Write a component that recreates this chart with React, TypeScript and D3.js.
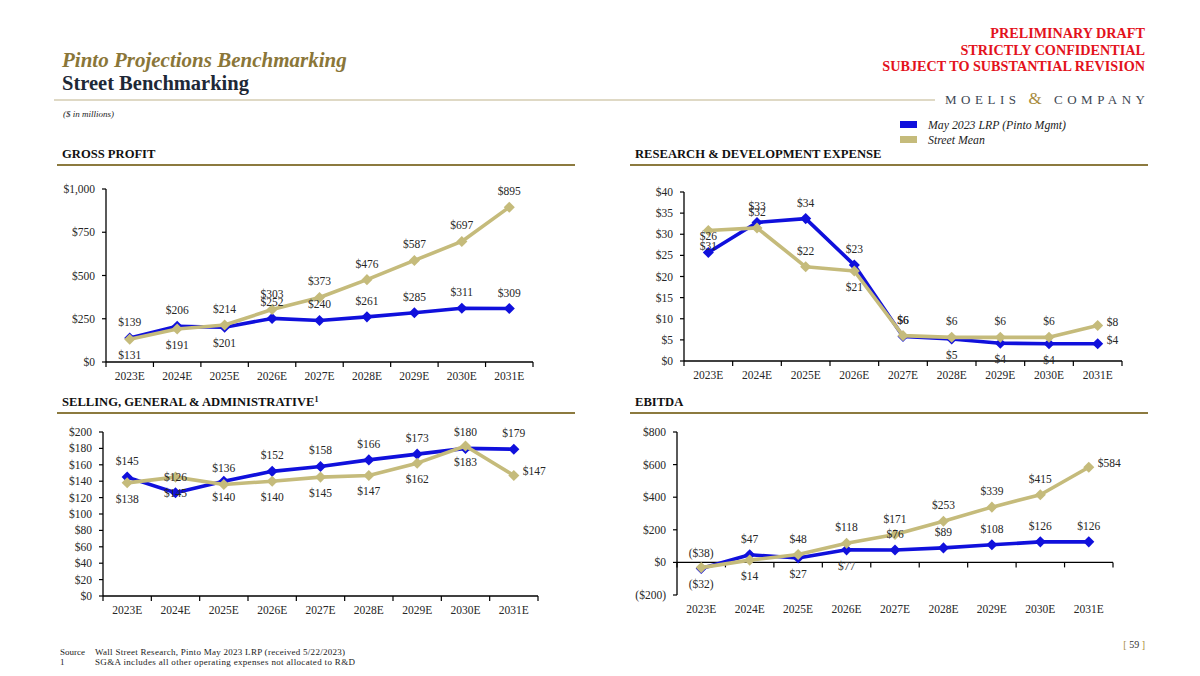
import React from "react";
import * as d3 from "d3";

const years = ["2023E", "2024E", "2025E", "2026E", "2027E", "2028E", "2029E", "2030E", "2031E"];

const gpLrp = [139, 206, 201, 252, 240, 261, 285, 311, 309];
const gpStreet = [131, 191, 214, 303, 373, 476, 587, 697, 895];
const gpTicks = [0, 250, 500, 750, 1000];
const gpLrpPos = ["a", "a", "b", "a", "a", "a", "a", "a", "a"];
const gpStreetPos = ["b", "b", "a", "a", "a", "a", "a", "a", "a"];

const rdLrp = [25.7, 32.8, 33.7, 22.7, 5.8, 5.2, 4.2, 4.1, 4.1];
const rdStreet = [30.9, 31.5, 22.3, 21.3, 6.0, 5.6, 5.6, 5.6, 8.4];
const rdTicks = [0, 5, 10, 15, 20, 25, 30, 35, 40];
const rdLrpPos = ["a", "a", "a", "a", "a", "b", "b", "b", "r"];
const rdStreetPos = ["b", "a", "a", "b", "a", "a", "a", "a", "r"];

const sgaLrp = [145, 126, 140, 152, 158, 166, 173, 180, 179];
const sgaStreet = [138, 145, 136, 140, 145, 147, 162, 183, 147];
const sgaTicks = [0, 20, 40, 60, 80, 100, 120, 140, 160, 180, 200];
const sgaLrpPos = ["a", "a", "b", "a", "a", "a", "a", "a", "a"];
const sgaStreetPos = ["b", "b", "a", "b", "b", "b", "b", "b", "r"];

const ebLrp = [-38, 47, 27, 77, 76, 89, 108, 126, 126];
const ebStreet = [-32, 14, 48, 118, 171, 253, 339, 415, 584];
const ebTicks = [-200, 0, 200, 400, 600, 800];
const ebLrpPos = ["a", "a", "b", "b", "a", "a", "a", "a", "a"];
const ebStreetPos = ["b", "b", "a", "a", "a", "a", "a", "a", "r"];

const BLUE = "#1010DC";
const GOLD = "#C5BB7B";
const SERIF = "'Liberation Serif', 'DejaVu Serif', serif";
const TXT = "#262626";

const fmtMoney = (v: number) => {
  const r = Math.round(v);
  const s = d3.format(",")(Math.abs(r));
  return r < 0 ? `($${s})` : `$${s}`;
};

type Series = { values: number[]; pos: string[]; color: string };

function Chart(props: {
  x0: number; x1: number; yTop: number; yBottom: number;
  domain: [number, number]; ticks: number[]; series: Series[];
}) {
  const { x0, x1, yTop, yBottom, domain, ticks, series } = props;
  const x = d3.scaleBand<string>().domain(years).range([x0, x1]);
  const y = d3.scaleLinear().domain(domain).range([yBottom, yTop]);
  const cx = (d: string) => (x(d) as number) + x.bandwidth() / 2;
  const y0 = y(Math.max(0, domain[0]));
  const line = d3.line<number>().x((_, i) => cx(years[i])).y((v) => y(v));
  const diamond = d3.symbol().type(d3.symbolDiamond2).size(78);
  const bounds = years.map((d) => x(d) as number).concat([x1]);
  return (
    <g>
      <line x1={x0} x2={x0} y1={yTop} y2={yBottom} stroke="#000" strokeWidth={1.3} />
      {ticks.map((t) => (
        <g key={t}>
          <line x1={x0 - 4} x2={x0} y1={y(t)} y2={y(t)} stroke="#000" strokeWidth={1.2} />
          <text x={x0 - 11} y={y(t) + 4} textAnchor="end" fontSize={11.5} fontFamily={SERIF} fill={TXT}>
            {fmtMoney(t)}
          </text>
        </g>
      ))}
      <line x1={x0} x2={x1} y1={y0} y2={y0} stroke="#000" strokeWidth={1.3} />
      {bounds.map((b, i) => (
        <line key={i} x1={b} x2={b} y1={y0} y2={y0 + 5} stroke="#000" strokeWidth={1.2} />
      ))}
      {years.map((d) => (
        <text key={d} x={cx(d)} y={yBottom + 18} textAnchor="middle" fontSize={11.5} fontFamily={SERIF} fill={TXT}>
          {d}
        </text>
      ))}
      {series.map((s, si) => (
        <g key={si}>
          <path d={line(s.values) || ""} fill="none" stroke={s.color} strokeWidth={3.6} strokeLinejoin="round" />
          {s.values.map((v, i) => (
            <path key={i} d={diamond() || ""} transform={`translate(${cx(years[i])},${y(v)})`} fill={s.color} />
          ))}
        </g>
      ))}
      {series.map((s, si) => (
        <g key={"l" + si}>
          {s.values.map((v, i) => {
            const p = s.pos[i];
            const px = cx(years[i]);
            const py = y(v);
            if (p === "r") {
              return (
                <text key={i} x={px + 9} y={py} textAnchor="start" fontSize={11.5} fontFamily={SERIF} fill={TXT}>
                  {fmtMoney(v)}
                </text>
              );
            }
            return (
              <text key={i} x={px} y={p === "a" ? py - 12 : py + 20} textAnchor="middle" fontSize={11.5} fontFamily={SERIF} fill={TXT}>
                {fmtMoney(v)}
              </text>
            );
          })}
        </g>
      ))}
    </g>
  );
}

function Section(props: { x: number; x2: number; y: number; title: React.ReactNode }) {
  return (
    <g>
      <text x={props.x + 5} y={props.y} fontSize={12.6} fontWeight="bold" fontFamily={SERIF} fill="#111">
        {props.title}
      </text>
      <line x1={props.x} x2={props.x2} y1={props.y + 7} y2={props.y + 7} stroke="#8C7A3F" strokeWidth={2} />
    </g>
  );
}

export default function App() {
  return (
    <svg width={1200} height={676} style={{ position: "absolute", left: 0, top: 0, background: "#fff" }}>
      <text x={62} y={67} fontSize={21} fontStyle="italic" fontWeight="bold" fontFamily={SERIF} fill="#8A7638">
        Pinto Projections Benchmarking
      </text>
      <text x={62} y={90} fontSize={20.5} fontWeight="bold" fontFamily={SERIF} fill="#1E2836">
        Street Benchmarking
      </text>
      <line x1={54} x2={935} y1={100} y2={100} stroke="#BFB48C" strokeWidth={1.2} />
      <text x={945} y={104} fontSize={13} fontFamily={SERIF} fill="#3C4652" textLength={200} lengthAdjust="spacing">
        MOELIS <tspan fill="#A88B3E" fontSize={17}>&amp;</tspan> COMPANY
      </text>
      {["PRELIMINARY DRAFT", "STRICTLY CONFIDENTIAL", "SUBJECT TO SUBSTANTIAL REVISION"].map((t, i) => (
        <text key={t} x={1145} y={38 + i * 16.5} textAnchor="end" fontSize={14.2} fontWeight="bold" fontFamily={SERIF} fill="#E3121C">
          {t}
        </text>
      ))}
      <text x={63} y={117} fontSize={9} fontStyle="italic" fontFamily={SERIF} fill="#222">
        ($ in millions)
      </text>
      <rect x={900} y={121} width={17} height={7} fill={BLUE} />
      <text x={928} y={129} fontSize={11.8} fontStyle="italic" fontFamily={SERIF} fill="#222">
        May 2023 LRP (Pinto Mgmt)
      </text>
      <rect x={900} y={136} width={17} height={7} fill={GOLD} />
      <text x={928} y={144} fontSize={11.8} fontStyle="italic" fontFamily={SERIF} fill="#222">
        Street Mean
      </text>

      <Section x={57} x2={575} y={158} title="GROSS PROFIT" />
      <Section x={630} x2={1148} y={158} title="RESEARCH & DEVELOPMENT EXPENSE" />
      <Section x={57} x2={575} y={406} title={<>SELLING, GENERAL &amp; ADMINISTRATIVE<tspan fontSize={8} dy={-4}>1</tspan></>} />
      <Section x={630} x2={1148} y={406} title="EBITDA" />

      <Chart x0={106} x1={533} yTop={189} yBottom={362} domain={[0, 1000]} ticks={gpTicks}
        series={[{ values: gpLrp, pos: gpLrpPos, color: BLUE }, { values: gpStreet, pos: gpStreetPos, color: GOLD }]} />
      <Chart x0={684} x1={1122} yTop={192} yBottom={361} domain={[0, 40]} ticks={rdTicks}
        series={[{ values: rdLrp, pos: rdLrpPos, color: BLUE }, { values: rdStreet, pos: rdStreetPos, color: GOLD }]} />
      <Chart x0={103} x1={538} yTop={432} yBottom={596} domain={[0, 200]} ticks={sgaTicks}
        series={[{ values: sgaLrp, pos: sgaLrpPos, color: BLUE }, { values: sgaStreet, pos: sgaStreetPos, color: GOLD }]} />
      <Chart x0={677} x1={1113} yTop={432} yBottom={595} domain={[-200, 800]} ticks={ebTicks}
        series={[{ values: ebLrp, pos: ebLrpPos, color: BLUE }, { values: ebStreet, pos: ebStreetPos, color: GOLD }]} />

      <text x={1145} y={648} textAnchor="end" fontSize={10} fontFamily={SERIF} fill="#333">
        <tspan fill="#A88B3E">[ </tspan>59<tspan fill="#A88B3E"> ]</tspan>
      </text>
      <text x={60} y={655} fontSize={9} fontFamily={SERIF} fill="#222">Source</text>
      <text x={95} y={655} fontSize={9} fontFamily={SERIF} fill="#222" textLength={250} lengthAdjust="spacing">Wall Street Research, Pinto May 2023 LRP (received 5/22/2023)</text>
      <text x={60} y={665} fontSize={9} fontFamily={SERIF} fill="#222">1</text>
      <text x={95} y={665} fontSize={9} fontFamily={SERIF} fill="#222" textLength={260} lengthAdjust="spacing">SG&amp;A includes all other operating expenses not allocated to R&amp;D</text>
    </svg>
  );
}
